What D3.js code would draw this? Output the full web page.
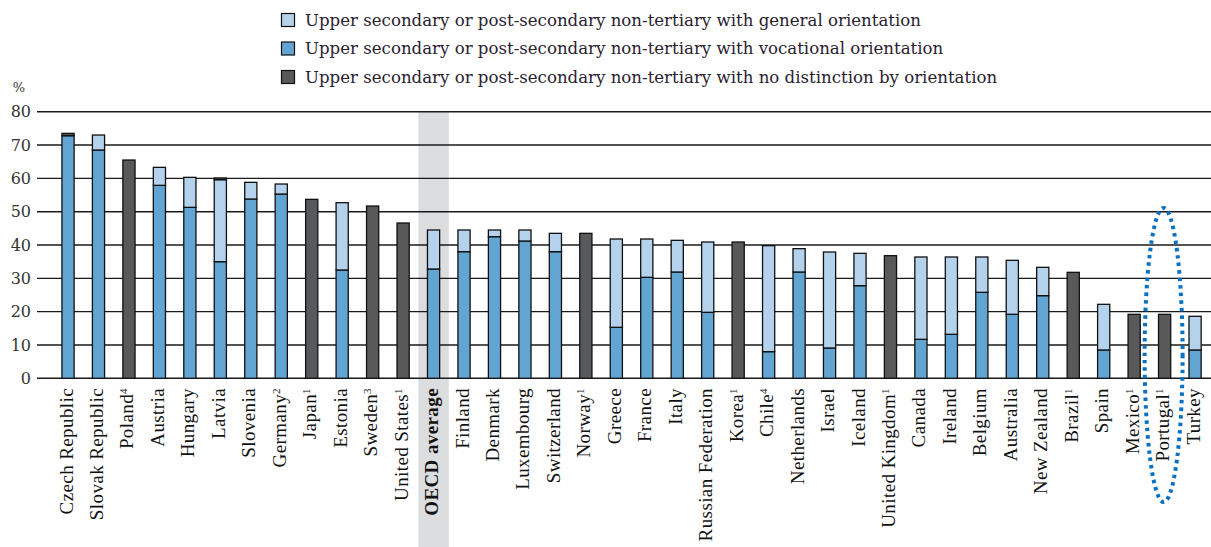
<!DOCTYPE html>
<html>
<head>
<meta charset="utf-8">
<script src="https://d3js.org/d3.v7.min.js"></script>
<style>
body { margin: 0; overflow: hidden; background: #fff; }
.tick-label { font-family: "DejaVu Serif", serif; font-size: 16px; fill: #333; }
.cat-label { font-family: "Liberation Serif", serif; font-size: 19px; letter-spacing: 0.4px; fill: #111; }
.legend text { font-family: "DejaVu Serif", serif; font-size: 16.6px; fill: #2a2130; }
</style>
</head>
<body>
<svg width="1211" height="547"></svg>
<script>
const countries = ["Czech Republic", "Slovak Republic", "Poland", "Austria", "Hungary", "Latvia",
  "Slovenia", "Germany", "Japan", "Estonia", "Sweden", "United States", "OECD average",
  "Finland", "Denmark", "Luxembourg", "Switzerland", "Norway", "Greece", "France", "Italy",
  "Russian Federation", "Korea", "Chile", "Netherlands", "Israel", "Iceland", "United Kingdom",
  "Canada", "Ireland", "Belgium", "Australia", "New Zealand", "Brazil", "Spain", "Mexico",
  "Portugal", "Turkey"];
const notes = ["", "", "4", "", "", "", "", "2", "1", "", "3", "1", "",
  "", "", "", "", "1", "", "", "",
  "", "1", "4", "", "", "", "1",
  "", "", "", "", "", "1", "", "1",
  "1", ""];
const vocational = [72.8, 68.5, 0, 57.9, 51.3, 35.0, 53.8, 55.3, 0, 32.5, 0, 0, 32.8,
  38.0, 42.5, 41.2, 38.0, 0, 15.3, 30.3, 31.9, 19.8, 0, 8.0, 31.9, 9.1, 27.8, 0,
  11.7, 13.2, 25.8, 19.2, 24.8, 0, 8.5, 0, 0, 8.5];
const general = [0, 4.5, 0, 5.4, 9.0, 24.6, 5.0, 3.0, 0, 20.2, 0, 0, 11.7,
  6.5, 2.0, 3.3, 5.5, 0, 26.5, 11.5, 9.5, 21.1, 0, 31.8, 7.0, 28.8, 9.7, 0,
  24.7, 23.2, 10.6, 16.2, 8.5, 0, 13.7, 0, 0, 10.1];
const noDistinction = [0.7, 0, 65.5, 0, 0, 0.5, 0, 0, 53.7, 0, 51.7, 46.6, 0,
  0, 0, 0, 0, 43.5, 0, 0, 0, 0, 40.9, 0, 0, 0, 0, 36.8,
  0, 0, 0, 0, 0, 31.8, 0, 19.2, 19.2, 0];
const yTicks = [0, 10, 20, 30, 40, 50, 60, 70, 80];
const legendLabels = [
  "Upper secondary or post-secondary non-tertiary with general orientation",
  "Upper secondary or post-secondary non-tertiary with vocational orientation",
  "Upper secondary or post-secondary non-tertiary with no distinction by orientation"
];

const keys = ["vocational", "general", "none"];
const colors = { vocational: "#62a4d2", general: "#b4d2eb", none: "#58595b" };
const legendKeys = ["general", "vocational", "none"];

const rows = countries.map((c, i) => ({
  country: c, vocational: vocational[i], general: general[i], none: noDistinction[i]
}));

const svg = d3.select("svg");

const x = d3.scaleBand()
  .domain(countries)
  .range([52.8, 1210.3])
  .paddingInner(0.6)
  .paddingOuter(0.3);

const y = d3.scaleLinear()
  .domain([0, 80])
  .range([378.3, 111.7]);

// shaded OECD column
svg.append("rect")
  .attr("x", x("OECD average") + x.bandwidth() / 2 - x.step() / 2)
  .attr("y", y(80))
  .attr("width", x.step())
  .attr("height", 547 - y(80))
  .attr("fill", "#dcdddf");

// grid
svg.append("g")
  .selectAll("line")
  .data(yTicks)
  .join("line")
    .attr("x1", 37)
    .attr("x2", 1211)
    .attr("y1", d => y(d))
    .attr("y2", d => y(d))
    .attr("stroke", "#1a1a1a")
    .attr("stroke-width", 1.4);

svg.append("g")
  .selectAll("text")
  .data(yTicks)
  .join("text")
    .attr("class", "tick-label")
    .attr("x", 31)
    .attr("y", d => y(d))
    .attr("dy", "0.36em")
    .attr("text-anchor", "end")
    .text(d => d);

svg.append("text")
  .attr("class", "tick-label")
  .attr("x", 19)
  .attr("y", 92)
  .attr("text-anchor", "middle")
  .style("font-size", "13px")
  .text("%");

// stacked bars
const series = d3.stack().keys(keys)(rows);

svg.append("g")
  .selectAll("g")
  .data(series)
  .join("g")
    .attr("fill", d => colors[d.key])
  .selectAll("rect")
  .data(d => d.filter(p => p[1] - p[0] > 0))
  .join("rect")
    .attr("x", d => x(d.data.country))
    .attr("y", d => y(d[1]))
    .attr("width", x.bandwidth())
    .attr("height", d => y(d[0]) - y(d[1]))
    .attr("stroke", "#111")
    .attr("stroke-width", 1.3);

// category labels
const labels = svg.append("g")
  .selectAll("text")
  .data(countries)
  .join("text")
    .attr("class", "cat-label")
    .attr("transform", d => `translate(${x(d) + x.bandwidth() / 2},388) rotate(-90)`)
    .attr("dy", 4.5)
    .attr("text-anchor", "end")
    .style("font-weight", d => d === "OECD average" ? "bold" : null);

labels.append("tspan").text(d => d);
labels.append("tspan")
  .attr("baseline-shift", "super")
  .style("font-size", "11px")
  .text((d, i) => notes[i]);

// legend
const legend = svg.append("g").attr("class", "legend");
legendKeys.forEach((k, i) => {
  const cy = 20 + i * 28.5;
  legend.append("rect")
    .attr("x", 281.5)
    .attr("y", cy - 6.5)
    .attr("width", 13)
    .attr("height", 13)
    .attr("fill", colors[k])
    .attr("stroke", "#111")
    .attr("stroke-width", 1.2);
  legend.append("text")
    .attr("x", 305)
    .attr("y", cy)
    .attr("dy", "0.35em")
    .text(legendLabels[i]);
});

// dotted highlight around Portugal
svg.append("ellipse")
  .attr("cx", x("Portugal") + x.bandwidth() / 2 - 1)
  .attr("cy", 355)
  .attr("rx", 19)
  .attr("ry", 147)
  .attr("fill", "none")
  .attr("stroke", "#0a70c2")
  .attr("stroke-width", 4)
  .attr("stroke-dasharray", "3.5 4");
</script>
</body>
</html>
